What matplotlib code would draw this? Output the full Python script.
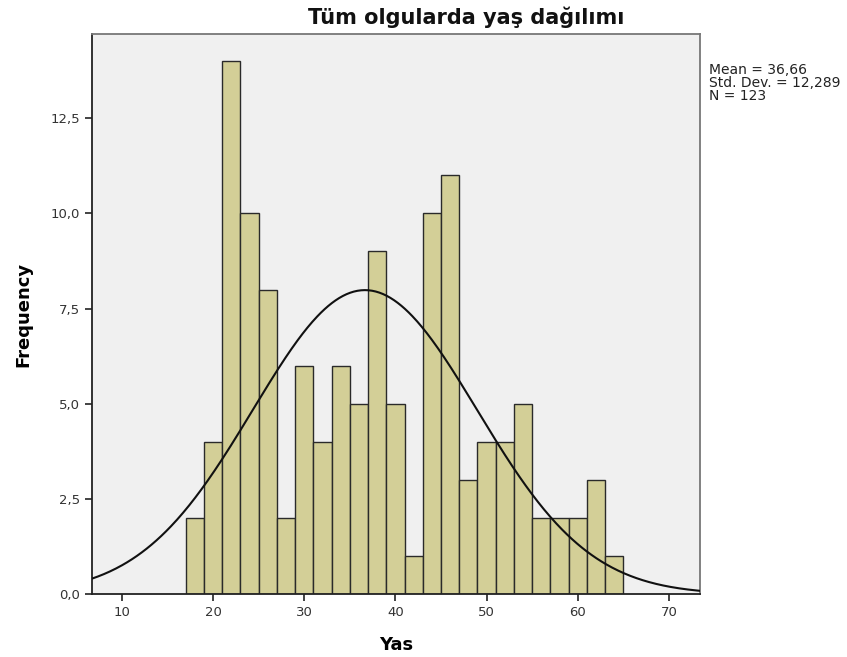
import numpy as np
import matplotlib
matplotlib.use("Agg")
import matplotlib.pyplot as plt
from matplotlib.ticker import FuncFormatter

# Data (bin width 2, from 17 to 65)
bin_edges = list(range(17, 66, 2))
counts = [2, 4, 14, 10, 8, 2, 6, 4, 6, 5, 9, 5, 1, 10, 11, 3, 4, 4, 5, 2, 2, 2, 3, 1]
mean_val = 36.66
std_val = 12.289
n_val = 123
x_ticks = [10, 20, 30, 40, 50, 60, 70]
y_ticks = [0.0, 2.5, 5.0, 7.5, 10.0, 12.5]

plt.rcParams['font.family'] = ['DejaVu Sans']

fig = plt.figure(figsize=(8.47, 6.57), dpi=100)
ax_h = 594.3 - 34
ax_w = 700 - 91.7
ax = fig.add_axes([91.7/847, 62.7/657, ax_w/847, ax_h/657])
ax.set_facecolor('#F0F0F0')

lefts = np.array(bin_edges[:-1])
widths = np.diff(bin_edges)
ax.bar(lefts, counts, width=widths, align='edge', color='#D3CF97',
       edgecolor='#2a2a2a', linewidth=1.0, zorder=2)

xlim = (6.7, 73.4)
xs = np.linspace(xlim[0], xlim[1], 500)
bw = widths[0]
ys = n_val * bw / (std_val * np.sqrt(2 * np.pi)) * np.exp(-0.5 * ((xs - mean_val) / std_val) ** 2)
ax.plot(xs, ys, color='#111111', linewidth=1.5, zorder=3)

ax.set_xlim(*xlim)
ax.set_ylim(0, 14.71)
ax.set_xticks(x_ticks)
ax.set_yticks(y_ticks)
ax.yaxis.set_major_formatter(FuncFormatter(lambda v, p: f"{v:.1f}".replace('.', ',')))
ax.tick_params(direction='out', length=5, width=1.2, colors='#222222',
               labelsize=9.5, labelcolor='#333333')
for s in ['left', 'bottom']:
    ax.spines[s].set_color('#222222')
    ax.spines[s].set_linewidth(1.3)
for s in ['top', 'right']:
    ax.spines[s].set_color('#777777')
    ax.spines[s].set_linewidth(1.3)

ax.set_xlabel('Yas', fontsize=13, fontweight='bold', va='center')
ax.xaxis.set_label_coords(0.5, (594.3 - 645) / ax_h)
ax.set_ylabel('Frequency', fontsize=13, fontweight='bold', va='center')
ax.yaxis.set_label_coords((23 - 91.7) / ax_w, 0.5)

fig.text(466/847, 1 - 17/657, 'Tüm olgularda yaş dağılımı', ha='center', va='center',
         fontsize=15, fontweight='bold', color='#111111')

def comma(v, nd):
    return f"{v:.{nd}f}".replace('.', ',')

stats = (f"Mean = {comma(mean_val, 2)}\n"
         f"Std. Dev. = {comma(std_val, 3)}\n"
         f"N = {n_val}")
fig.text(709/847, 1 - 63/657, stats, ha='left', va='top', fontsize=10,
         color='#222222', linespacing=0.9)

fig.savefig('out.png', dpi=100, facecolor='white')
